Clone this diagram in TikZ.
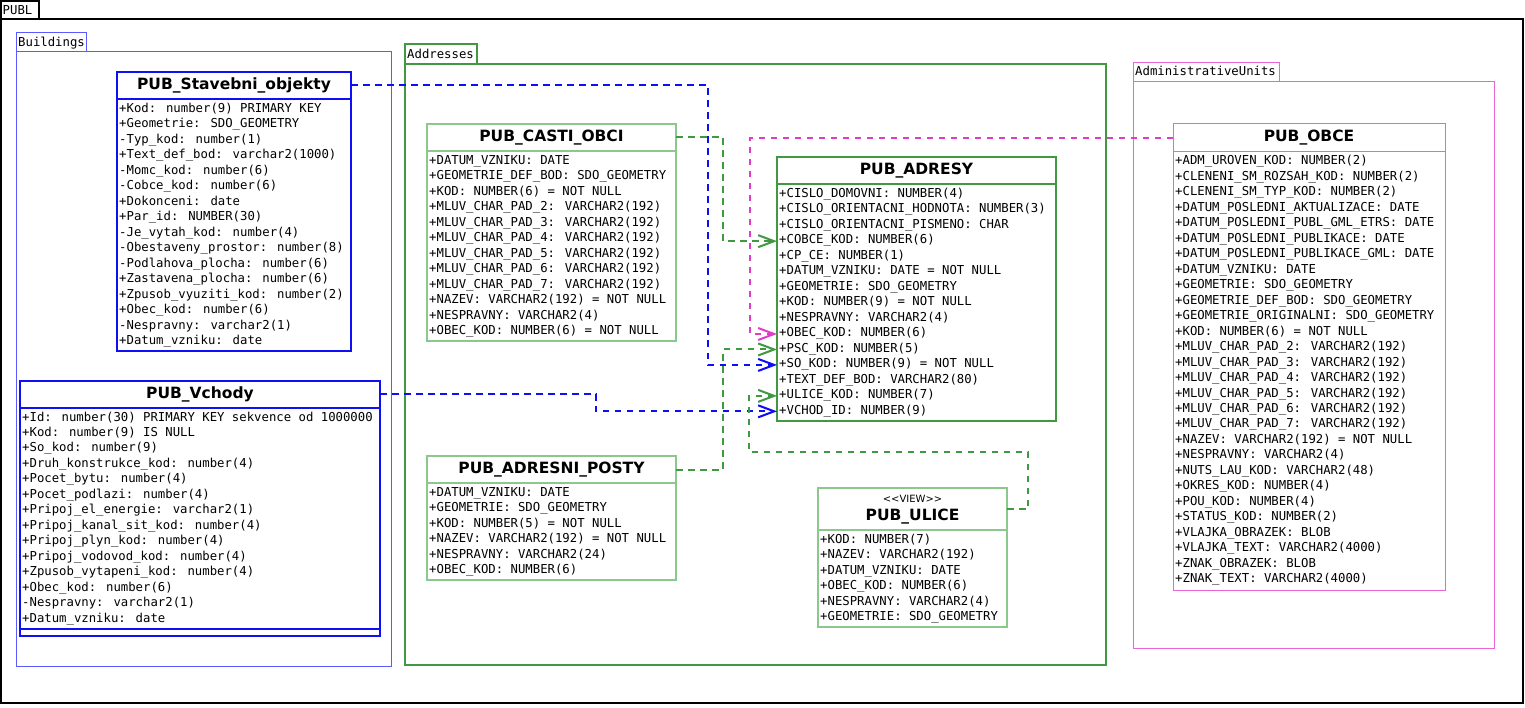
\documentclass[tikz,border=0pt]{standalone}
\usepackage{fontspec}
\setmainfont{DejaVu Sans}
\newfontfamily\monofnt{DejaVu Sans Mono}
\usetikzlibrary{arrows.meta}

\definecolor{cBlueThick}{RGB}{15,15,245}
\definecolor{cBlueThin}{RGB}{90,90,255}
\definecolor{cGreenThick}{RGB}{64,152,64}
\definecolor{cGreenThin}{RGB}{140,200,140}
\definecolor{cPinkLine}{RGB}{225,60,200}
\definecolor{cPinkBox}{RGB}{232,100,215}

\tikzset{
  attr/.style={font=\monofnt\fontsize{12.3}{14}\selectfont, inner sep=0pt, anchor=base west},
  hdr/.style={font=\bfseries\fontsize{15.5}{18}\selectfont, inner sep=0pt, anchor=north west},
  bluebox/.style={draw=cBlueThick, line width=2pt, outer sep=0pt},
  greenbox/.style={draw=cGreenThick, line width=2pt, outer sep=0pt},
  lgreenbox/.style={draw=cGreenThin, line width=1.2pt, outer sep=0pt},
  pinkclass/.style={draw=cPinkBox, line width=1pt, outer sep=0pt},
  frm/.style={anchor=north west, inner sep=0pt, outer sep=0pt},
  conn/.style={line width=2pt, dash pattern=on 6.5pt off 5.5pt,
    -{Straight Barb[length=16pt,width=12pt]}},
}

% #1 id, #2 x, #3 y, #4 width, #5 header height, #6 body height, #7 style, #8 title, #9 attributes
\newcommand\umlbox[9]{%
  \node[#7, hdr, minimum width=#4pt, minimum height=#5pt] (#1) at (#2,#3) {#8};
  \node[#7, anchor=north west, minimum width=#4pt, minimum height=#6pt, inner sep=0pt] (#1-body) at (#1.south west) {};
  \foreach \attrtext [count=\i] in {#9} {
    \node[attr] (#1-\i) at ([xshift=2pt, yshift={-13.5pt-(\i-1)*15.47pt}]#1-body.north west) {\attrtext};
  }
}

\begin{document}
\begin{tikzpicture}[x=1pt,y=-1pt]
\useasboundingbox (0,0) rectangle (1525,708);
\fill[white] (0,0) rectangle (1525,708);

% ---------- frames ----------
\node[frm, draw=black, line width=2pt, minimum width=1522pt, minimum height=684pt] (publ) at (1,19) {};
\node[frm, draw=black, line width=1.5pt, minimum width=38pt, minimum height=18pt] (publ-tab) at (1,1) {};
\node[attr] (publ-lbl) at ([xshift=1.5pt,yshift=4.7pt]publ-tab.south west) {PUBL};

\node[frm, draw=cBlueThin, line width=1pt, minimum width=375pt, minimum height=615pt] (bld) at (16,51.7) {};
\node[frm, draw=cBlueThin, line width=1pt, minimum width=70pt, minimum height=19.2pt] (bld-tab) at (16,32.5) {};
\node[attr] (bld-lbl) at ([xshift=2pt,yshift=5pt]bld-tab.south west) {Buildings};

\node[frm, draw=cGreenThick, line width=2pt, minimum width=701pt, minimum height=601.3pt] (adr) at (405,63.7) {};
\node[frm, draw=cGreenThick, line width=2pt, minimum width=72pt, minimum height=19.7pt] (adr-tab) at (405,44) {};
\node[attr] (adr-lbl) at ([xshift=2pt,yshift=5.4pt]adr-tab.south west) {Addresses};

\node[frm, draw=cPinkBox, line width=1pt, minimum width=361pt, minimum height=566.7pt] (adm) at (1133,81.3) {};
\node[frm, draw=cPinkBox, line width=1pt, minimum width=146.3pt, minimum height=19pt] (adm-tab) at (1133,62.3) {};
\node[attr] (adm-lbl) at ([xshift=2pt,yshift=5.3pt]adm-tab.south west) {AdministrativeUnits};

% ---------- classes ----------
\umlbox{so}{117}{72}{234}{27}{252}{bluebox}{PUB\_Stavebni\_objekty}{%
+Kod: number(9) PRIMARY KEY,
+Geometrie: SDO\_GEOMETRY,
-Typ\_kod: number(1),
+Text\_def\_bod: varchar2(1000),
-Momc\_kod: number(6),
-Cobce\_kod: number(6),
+Dokonceni: date,
+Par\_id: NUMBER(30),
-Je\_vytah\_kod: number(4),
-Obestaveny\_prostor: number(8),
-Podlahova\_plocha: number(6),
+Zastavena\_plocha: number(6),
+Zpusob\_vyuziti\_kod: number(2),
+Obec\_kod: number(6),
-Nespravny: varchar2(1),
+Datum\_vzniku: date}

\umlbox{vc}{20}{381}{360}{26.5}{221.5}{bluebox}{PUB\_Vchody}{%
+Id: number(30) PRIMARY KEY sekvence od 1000000,
+Kod: number(9) IS NULL,
+So\_kod: number(9),
+Druh\_konstrukce\_kod: number(4),
+Pocet\_bytu: number(4),
+Pocet\_podlazi: number(4),
+Pripoj\_el\_energie: varchar2(1),
+Pripoj\_kanal\_sit\_kod: number(4),
+Pripoj\_plyn\_kod: number(4),
+Pripoj\_vodovod\_kod: number(4),
+Zpusob\_vytapeni\_kod: number(4),
+Obec\_kod: number(6),
-Nespravny: varchar2(1),
+Datum\_vzniku: date}
\node[bluebox, anchor=north west, minimum width=360pt, minimum height=7pt, inner sep=0pt] (vc-ops) at (vc-body.south west) {};

\umlbox{co}{427}{124}{249}{27}{190}{lgreenbox}{PUB\_CASTI\_OBCI}{%
+DATUM\_VZNIKU: DATE,
+GEOMETRIE\_DEF\_BOD: SDO\_GEOMETRY,
+KOD: NUMBER(6) = NOT NULL,
+MLUV\_CHAR\_PAD\_2: VARCHAR2(192),
+MLUV\_CHAR\_PAD\_3: VARCHAR2(192),
+MLUV\_CHAR\_PAD\_4: VARCHAR2(192),
+MLUV\_CHAR\_PAD\_5: VARCHAR2(192),
+MLUV\_CHAR\_PAD\_6: VARCHAR2(192),
+MLUV\_CHAR\_PAD\_7: VARCHAR2(192),
+NAZEV: VARCHAR2(192) = NOT NULL,
+NESPRAVNY: VARCHAR2(4),
+OBEC\_KOD: NUMBER(6) = NOT NULL}

\umlbox{ad}{777}{157}{279}{27}{237}{greenbox}{PUB\_ADRESY}{%
+CISLO\_DOMOVNI: NUMBER(4),
+CISLO\_ORIENTACNI\_HODNOTA: NUMBER(3),
+CISLO\_ORIENTACNI\_PISMENO: CHAR,
+COBCE\_KOD: NUMBER(6),
+CP\_CE: NUMBER(1),
+DATUM\_VZNIKU: DATE = NOT NULL,
+GEOMETRIE: SDO\_GEOMETRY,
+KOD: NUMBER(9) = NOT NULL,
+NESPRAVNY: VARCHAR2(4),
+OBEC\_KOD: NUMBER(6),
+PSC\_KOD: NUMBER(5),
+SO\_KOD: NUMBER(9) = NOT NULL,
+TEXT\_DEF\_BOD: VARCHAR2(80),
+ULICE\_KOD: NUMBER(7),
+VCHOD\_ID: NUMBER(9)}

\umlbox{po}{427}{456}{249}{27}{97}{lgreenbox}{PUB\_ADRESNI\_POSTY}{%
+DATUM\_VZNIKU: DATE,
+GEOMETRIE: SDO\_GEOMETRY,
+KOD: NUMBER(5) = NOT NULL,
+NAZEV: VARCHAR2(192) = NOT NULL,
+NESPRAVNY: VARCHAR2(24),
+OBEC\_KOD: NUMBER(6)}

\umlbox{ul}{818}{488}{189}{42}{97}{lgreenbox}{}{%
+KOD: NUMBER(7),
+NAZEV: VARCHAR2(192),
+DATUM\_VZNIKU: DATE,
+OBEC\_KOD: NUMBER(6),
+NESPRAVNY: VARCHAR2(4),
+GEOMETRIE: SDO\_GEOMETRY}
\node[font=\fontsize{10}{12}\selectfont, inner sep=0pt] (ul-st) at (912.5,498.8) {{<}{<}VIEW{>}{>}};
\node[font=\bfseries\fontsize{15.5}{18}\selectfont, inner sep=0pt] (ul-title) at (912.5,516.5) {PUB\_ULICE};

\umlbox{ob}{1173}{124}{272}{27.5}{438.5}{pinkclass}{PUB\_OBCE}{%
+ADM\_UROVEN\_KOD: NUMBER(2),
+CLENENI\_SM\_ROZSAH\_KOD: NUMBER(2),
+CLENENI\_SM\_TYP\_KOD: NUMBER(2),
+DATUM\_POSLEDNI\_AKTUALIZACE: DATE,
+DATUM\_POSLEDNI\_PUBL\_GML\_ETRS: DATE,
+DATUM\_POSLEDNI\_PUBLIKACE: DATE,
+DATUM\_POSLEDNI\_PUBLIKACE\_GML: DATE,
+DATUM\_VZNIKU: DATE,
+GEOMETRIE: SDO\_GEOMETRY,
+GEOMETRIE\_DEF\_BOD: SDO\_GEOMETRY,
+GEOMETRIE\_ORIGINALNI: SDO\_GEOMETRY,
+KOD: NUMBER(6) = NOT NULL,
+MLUV\_CHAR\_PAD\_2: VARCHAR2(192),
+MLUV\_CHAR\_PAD\_3: VARCHAR2(192),
+MLUV\_CHAR\_PAD\_4: VARCHAR2(192),
+MLUV\_CHAR\_PAD\_5: VARCHAR2(192),
+MLUV\_CHAR\_PAD\_6: VARCHAR2(192),
+MLUV\_CHAR\_PAD\_7: VARCHAR2(192),
+NAZEV: VARCHAR2(192) = NOT NULL,
+NESPRAVNY: VARCHAR2(4),
+NUTS\_LAU\_KOD: VARCHAR2(48),
+OKRES\_KOD: NUMBER(4),
+POU\_KOD: NUMBER(4),
+STATUS\_KOD: NUMBER(2),
+VLAJKA\_OBRAZEK: BLOB,
+VLAJKA\_TEXT: VARCHAR2(4000),
+ZNAK\_OBRAZEK: BLOB,
+ZNAK\_TEXT: VARCHAR2(4000)}

% ---------- connectors ----------
\draw[conn, cBlueThick] (so.east) -| (708,200) |- (ad-body.west |- ad-12.mid);
\draw[conn, cBlueThick] (vc.east) -| (596,400) |- (ad-body.west |- ad-15.mid);
\draw[conn, cGreenThick] (co.east) -| (723,200) |- (ad-body.west |- ad-4.mid);
\draw[conn, cPinkLine] (ob.west) -| (750,250) |- (ad-body.west |- ad-10.mid);
\draw[conn, cGreenThick] (po.east) -| (723,400) |- (ad-body.west |- ad-11.mid);
\draw[conn, cGreenThick] (ul.east) -| (1028,452) -| (749,420) |- (ad-body.west |- ad-14.mid);
\end{tikzpicture}
\end{document}
